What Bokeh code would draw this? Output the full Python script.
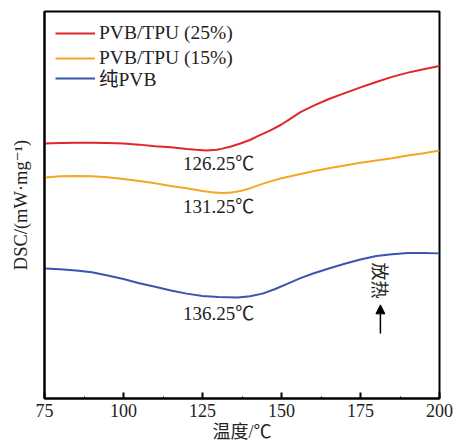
from bokeh.plotting import figure
from bokeh.models import (Range1d, Legend, LegendItem, Label, Arrow, NormalHead,
                          FixedTicker)
from bokeh.embed import file_html
from bokeh.resources import INLINE

# DSC heating curves (temperature in C, heat flow in arbitrary offset units)
temp_25 = [75, 80, 85, 90, 95, 100, 105, 110, 115, 120, 123, 126.25, 129.5, 131, 134,
           137, 140, 143, 146.5, 150, 153, 156, 160, 165, 170, 175, 180, 185, 190, 195, 200]
dsc_25 = [6.59, 6.60, 6.61, 6.61, 6.60, 6.59, 6.56, 6.52, 6.49, 6.45, 6.43, 6.41, 6.43, 6.45, 6.51,
          6.59, 6.68, 6.80, 6.93, 7.08, 7.24, 7.40, 7.56, 7.74, 7.89, 8.04, 8.18, 8.31, 8.42, 8.51, 8.59]

temp_15 = [75, 80, 85, 90, 95, 100, 105, 110, 115, 120, 125, 128, 131.25, 134, 137, 140, 143,
           146.5, 150, 155, 160, 165, 170, 175, 180, 185, 190, 195, 200]
dsc_15 = [5.71, 5.74, 5.75, 5.74, 5.72, 5.67, 5.62, 5.56, 5.49, 5.43, 5.36, 5.33, 5.31, 5.32, 5.36,
          5.43, 5.52, 5.61, 5.69, 5.78, 5.87, 5.95, 6.02, 6.09, 6.15, 6.21, 6.28, 6.34, 6.41]

temp_pvb = [75, 80, 85, 90, 95, 100, 105, 110, 115, 120, 125, 130, 136.25, 140, 144, 148, 152,
            156, 160, 165, 170, 175, 180, 185, 190, 195, 200]
dsc_pvb = [3.36, 3.34, 3.31, 3.26, 3.18, 3.09, 2.98, 2.89, 2.79, 2.71, 2.65, 2.62, 2.61, 2.64, 2.71,
           2.83, 2.97, 3.11, 3.23, 3.36, 3.48, 3.59, 3.68, 3.73, 3.76, 3.76, 3.75]

series_names = ["PVB/TPU (25%)", "PVB/TPU (15%)", "纯PVB"]
series_colors = ["#e0262b", "#f5a623", "#3a55b0"]

peak_temps = [126.25, 131.25, 136.25]
peak_label_y = [6.08, 4.96, 2.20]

x_ticks = [75, 100, 125, 150, 175, 200]

SERIF = "Liberation Serif, Noto Sans CJK SC, DejaVu Serif"
TEXT_COLOR = "#222222"

p = figure(width=456, height=445, output_backend="svg", toolbar_location=None,
           x_range=Range1d(75, 200), y_range=Range1d(0, 10),
           min_border_left=44, min_border_right=17, min_border_top=11, min_border_bottom=47)

p.xgrid.visible = False
p.ygrid.visible = False
p.outline_line_color = "black"
p.outline_line_width = 2
p.background_fill_color = "white"
p.border_fill_color = "white"

# bottom axis: inward ticks only
xa = p.xaxis[0]
xa.ticker = FixedTicker(ticks=x_ticks, minor_ticks=[87.5, 112.5, 137.5, 162.5, 187.5])
xa.major_tick_in = 6
xa.major_tick_out = 0
xa.minor_tick_in = 2
xa.minor_tick_out = 0
xa.axis_line_width = 2
xa.major_tick_line_width = 2
xa.major_label_standoff = 5
xa.major_label_text_font = SERIF
xa.major_label_text_font_size = "18px"
xa.major_label_text_color = TEXT_COLOR
xa.axis_label = "温度/℃"
xa.axis_label_standoff = 2
xa.axis_label_text_font = SERIF
xa.axis_label_text_font_size = "18px"
xa.axis_label_text_font_style = "normal"
xa.axis_label_text_color = TEXT_COLOR

# left axis: label only
ya = p.yaxis[0]
ya.ticker = FixedTicker(ticks=[])
ya.major_tick_in = 0
ya.major_tick_out = 0
ya.minor_tick_in = 0
ya.minor_tick_out = 0
ya.major_label_text_font_size = "0px"
ya.major_label_standoff = 0
ya.axis_line_width = 2
ya.axis_label = "DSC/(mW·mg⁻¹)"
ya.axis_label_standoff = 14
ya.axis_label_text_font = SERIF
ya.axis_label_text_font_size = "18.5px"
ya.axis_label_text_font_style = "normal"
ya.axis_label_text_color = TEXT_COLOR

renderers = []
for xs, ys, c in [(temp_25, dsc_25, series_colors[0]),
                  (temp_15, dsc_15, series_colors[1]),
                  (temp_pvb, dsc_pvb, series_colors[2])]:
    renderers.append(p.line(xs, ys, line_color=c, line_width=2))

legend_style = dict(padding=0, spacing=3, glyph_width=40, glyph_height=20, label_height=20,
                    label_standoff=4, border_line_alpha=0, background_fill_alpha=0,
                    label_text_font=SERIF, label_text_font_size="19.5px",
                    label_text_color=TEXT_COLOR)

# Latin-script entries share one legend; the CJK entry gets its own so the
# taller CJK font metrics don't stretch the row spacing.
legend_top = Legend(items=[LegendItem(label=n, renderers=[r])
                           for n, r in zip(series_names[:2], renderers[:2])],
                    location="top_left", margin=11, **legend_style)
legend_cjk = Legend(items=[LegendItem(label=series_names[2], renderers=[renderers[2]])],
                    location=(11, 306), margin=0, **legend_style)
p.add_layout(legend_top)
p.add_layout(legend_cjk)

# peak temperature labels
for t, ly in zip(peak_temps, peak_label_y):
    p.add_layout(Label(x=130.1, y=ly, text=f"{t:.2f}℃", text_align="center",
                       text_baseline="middle", text_font=SERIF, text_font_size="19px",
                       text_color=TEXT_COLOR))

# exothermic direction marker
p.add_layout(Arrow(end=NormalHead(size=9, fill_color="black", line_color="black"),
                   x_start=181.3, y_start=1.68, x_end=181.3, y_end=2.42,
                   line_color="black", line_width=1.5))
p.add_layout(Label(x=180.8, y=3.05, text="放热", angle=-1.5708, text_align="center",
                   text_baseline="middle", text_font=SERIF, text_font_size="18px",
                   text_color=TEXT_COLOR))

open("out.html", "w").write(file_html(p, INLINE))
